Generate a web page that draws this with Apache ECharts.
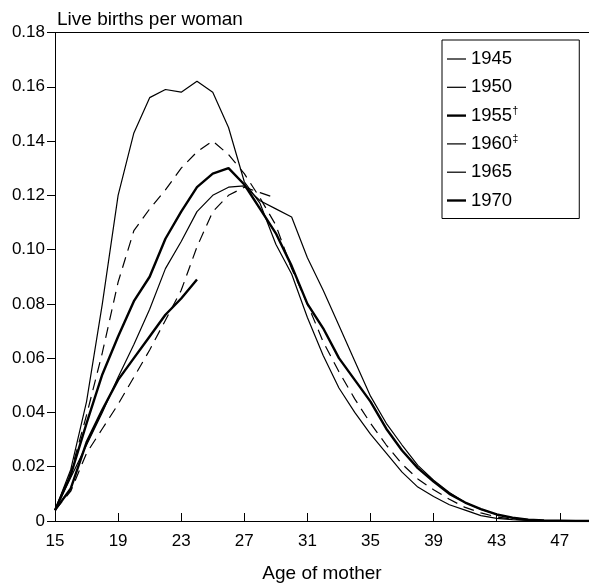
<!DOCTYPE html>
<html>
<head>
<meta charset="utf-8">
<script src="https://cdn.jsdelivr.net/npm/echarts@6/dist/echarts.min.js"></script>
<style>
html,body{margin:0;padding:0;background:#fff;}
#chart{width:589px;height:588px;}
</style>
</head>
<body>
<div id="chart"></div>
<script>
// Ages of mother (categories along x)
const ages = [15,16,17,18,19,20,21,22,23,24,25,26,27,28,29,30,31,32,33,34,35,36,37,38,39,40,41,42,43,44,45,46,47,48,49];
const xTicks = [15,19,23,27,31,35,39,43,47];

// Live births per woman by age, for each cohort (starting at age 15)
const c1945 = [0.004,0.019,0.044,0.080,0.120,0.143,0.156,0.159,0.158,0.162,0.158,0.145,0.125,0.117,0.102,0.091,0.075,0.061,0.049,0.040,0.032,0.025,0.018,0.0125,0.009,0.006,0.004,0.002,0.001,0.0005,0.0002,0.0001,0,0,0];
const c1950 = [0.004,0.018,0.039,0.062,0.088,0.107,0.115,0.122,0.130,0.136,0.140,0.135,0.128,0.119,0.109,0.093,0.080,0.066,0.055,0.045,0.036,0.028,0.021,0.0155,0.0115,0.008,0.005,0.003,0.0015,0.0007,0.0003,0.0001,0,0,0];
const c1955 = [0.004,0.017,0.036,0.054,0.068,0.081,0.090,0.104,0.114,0.123,0.128,0.130,0.124,0.115,0.106,0.094,0.080,0.071,0.060,0.052,0.044,0.034,0.026,0.0195,0.0145,0.010,0.0068,0.0044,0.0024,0.0012,0.0005,0.0002,0.0001,0,0];
const c1960 = [0.004,0.016,0.028,0.040,0.053,0.065,0.078,0.093,0.103,0.114,0.120,0.123,0.1235,0.118,0.115,0.112,0.097,0.085,0.072,0.059,0.046,0.036,0.028,0.0205,0.015,0.0105,0.0068,0.0043,0.0024,0.0012,0.0005,0.0002,0.0001,0,0];
const c1965 = [0.004,0.011,0.025,0.034,0.043,0.053,0.063,0.074,0.085,0.101,0.114,0.120,0.123,0.121,0.119];
const c1970 = [0.004,0.012,0.029,0.041,0.052,0.060,0.068,0.076,0.082,0.089];

const names = ['1945','1950','1955','1960','1965','1970'];
const marks = {'1955':'†','1960':'‡'};

function pairs(arr){ return arr.map((v,i)=>[ages[i], v]); }

const chart = echarts.init(document.getElementById('chart'), null, {renderer:'canvas'});

const thin = 1.2, thick = 2.4, dash = [11,7];
const defs = [
  {name:'1945', data:c1945, width:thin,  type:'solid'},
  {name:'1950', data:c1950, width:thin,  type:dash},
  {name:'1955', data:c1955, width:thick, type:'solid'},
  {name:'1960', data:c1960, width:thin,  type:'solid'},
  {name:'1965', data:c1965, width:thin,  type:dash},
  {name:'1970', data:c1970, width:thick, type:'solid'}
];
const thinIcon = 'path://M0 0H20V1.3H0Z';
const thickIcon = 'path://M0 0H20V2.5H0Z';

const option = {
  animation:false,
  backgroundColor:'#fff',
  textStyle:{fontFamily:'"Liberation Sans", Arial, sans-serif'},
  grid:{left:55, right:0, top:32.5, bottom:62, containLabel:false},
  legend:{
    orient:'vertical', left:442, top:40,
    borderColor:'#000', borderWidth:1,
    padding:[9,61,8,5],
    itemWidth:19, itemHeight:14, itemGap:8.3,
    symbolKeepAspect:true,
    selectedMode:false,
    itemStyle:{color:'#000', borderWidth:0},
    textStyle:{fontSize:18.5, color:'#000', lineHeight:20, fontFamily:'"Liberation Sans", Arial, sans-serif',
      rich:{sup:{fontSize:11, lineHeight:12, verticalAlign:'top', color:'#000', fontFamily:'"Liberation Sans", Arial, sans-serif'}}},
    formatter:function(n){ return marks[n] ? n + '{sup|' + marks[n] + '}' : n; },
    data:defs.map(d=>({name:d.name, icon:(d.width>2 ? thickIcon : thinIcon)}))
  },
  xAxis:[{
    type:'value', min:15, max:48.85, position:'bottom',
    axisLine:{show:true, lineStyle:{color:'#000', width:1}},
    axisTick:{show:true, inside:true, length:8, customValues:xTicks, lineStyle:{color:'#000'}},
    axisLabel:{customValues:xTicks, fontSize:17, color:'#000', margin:12},
    splitLine:{show:false},
    name:'Age of mother', nameLocation:'middle', nameGap:43,
    nameTextStyle:{fontSize:19, color:'#000'}
  },{
    type:'value', min:15, max:48.85, position:'top',
    axisLine:{show:true, lineStyle:{color:'#000', width:1}},
    axisTick:{show:false}, axisLabel:{show:false}, splitLine:{show:false}
  }],
  yAxis:{
    type:'value', min:0, max:0.18, interval:0.02,
    axisLine:{show:true, lineStyle:{color:'#000', width:1}},
    axisTick:{show:true, inside:false, length:8, lineStyle:{color:'#000'}},
    axisLabel:{fontSize:17, color:'#000', margin:10,
      formatter:function(v){ return v===0 ? '0' : v.toFixed(2); }},
    splitLine:{show:false},
    name:'Live births per woman', nameLocation:'end', nameGap:3,
    nameTextStyle:{fontSize:19, color:'#000', align:'left', padding:[0,0,0,2]}
  },
  series:defs.map(d=>({
    name:d.name, type:'line', xAxisIndex:0,
    data:pairs(d.data),
    symbol:'none', showSymbol:false, clip:true,
    lineStyle:{color:'#000', width:d.width, type:d.type},
    itemStyle:{color:'#000'},
    emphasis:{disabled:true}
  }))
};
chart.setOption(option);
</script>
</body>
</html>
